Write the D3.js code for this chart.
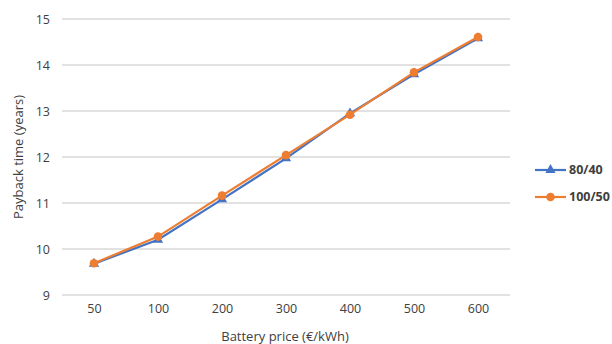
<!DOCTYPE html>
<html>
<head>
<meta charset="utf-8">
<script src="https://cdn.jsdelivr.net/npm/d3@7"></script>
<style>
  body { margin: 0; background: #fff; }
  text { font-family: "Open Sans", sans-serif; }
</style>
</head>
<body>
<div id="my_dataviz"></div>
<script>
// data
var prices = ["50", "100", "200", "300", "400", "500", "600"]
var series80 = [9.68, 10.2, 11.08, 11.97, 12.95, 13.8, 14.58]
var series100 = [9.69, 10.27, 11.16, 12.04, 12.92, 13.84, 14.61]
var yTicks = [9, 10, 11, 12, 13, 14, 15]

var width = 612,
    height = 344

var svg = d3.select("#my_dataviz")
  .append("svg")
    .attr("width", width)
    .attr("height", height)

// x and y scales
var x = d3.scalePoint()
  .domain(prices)
  .range([62, 510])
  .padding(0.5)

var y = d3.scaleLinear()
  .domain([9, 15])
  .range([295, 19])

// gridlines
svg.append("g")
  .selectAll("line")
  .data(yTicks)
  .enter()
  .append("line")
    .attr("x1", 62)
    .attr("x2", 510)
    .attr("y1", function(d) { return y(d) })
    .attr("y2", function(d) { return y(d) })
    .attr("stroke", "#d9d9d9")
    .attr("stroke-width", 1.3)

// y axis labels
var yAxis = svg.append("g")
  .attr("transform", "translate(52,0)")
  .call(d3.axisLeft(y).tickValues(yTicks).tickFormat(d3.format("d")).tickSize(0).tickPadding(2))
yAxis.select(".domain").remove()
yAxis.selectAll("text")
  .style("font-size", "12.5px")
  .attr("fill", "#404040")

// x axis labels
var xAxis = svg.append("g")
  .attr("transform", "translate(0,302)")
  .call(d3.axisBottom(x).tickSize(0).tickPadding(2))
xAxis.select(".domain").remove()
xAxis.selectAll("text")
  .style("font-size", "12.5px")
  .attr("fill", "#404040")

// axis titles
svg.append("text")
  .attr("x", 285)
  .attr("y", 341)
  .attr("text-anchor", "middle")
  .style("font-size", "13px")
  .attr("fill", "#404040")
  .text("Battery price (€/kWh)")

svg.append("text")
  .attr("transform", "translate(23,157) rotate(-90)")
  .attr("text-anchor", "middle")
  .style("font-size", "13px")
  .attr("fill", "#404040")
  .text("Payback time (years)")

var line = d3.line()
  .x(function(d, i) { return x(prices[i]) })
  .y(function(d) { return y(d) })

var blue = "#4472C4",
    orange = "#ED7D31"

// series 80/40 with triangles
svg.append("path")
  .datum(series80)
  .attr("fill", "none")
  .attr("stroke", blue)
  .attr("stroke-width", 2.2)
  .attr("d", line)

var tri = d3.symbol().type(d3.symbolTriangle).size(45)
svg.append("g")
  .selectAll("path")
  .data(series80)
  .enter()
  .append("path")
    .attr("d", tri)
    .attr("transform", function(d, i) { return "translate(" + x(prices[i]) + "," + y(d) + ")" })
    .attr("fill", blue)

// series 100/50 with circles
svg.append("path")
  .datum(series100)
  .attr("fill", "none")
  .attr("stroke", orange)
  .attr("stroke-width", 2.2)
  .attr("d", line)

svg.append("g")
  .selectAll("circle")
  .data(series100)
  .enter()
  .append("circle")
    .attr("cx", function(d, i) { return x(prices[i]) })
    .attr("cy", function(d) { return y(d) })
    .attr("r", 4.3)
    .attr("fill", orange)

// legend
var legend = [
  { name: "80/40", color: blue, shape: "tri" },
  { name: "100/50", color: orange, shape: "circle" }
]

var lg = svg.append("g")
  .selectAll("g")
  .data(legend)
  .enter()
  .append("g")
    .attr("transform", function(d, i) { return "translate(535," + (170 + i * 27) + ")" })

lg.append("line")
  .attr("x1", 0).attr("x2", 31)
  .attr("stroke", function(d) { return d.color })
  .attr("stroke-width", 2.2)

lg.filter(function(d) { return d.shape === "tri" })
  .append("path")
  .attr("d", tri)
  .attr("transform", "translate(15.5,0)")
  .attr("fill", function(d) { return d.color })

lg.filter(function(d) { return d.shape === "circle" })
  .append("circle")
  .attr("cx", 15.5)
  .attr("r", 4.3)
  .attr("fill", function(d) { return d.color })

lg.append("text")
  .attr("x", 34)
  .attr("dy", "0.35em")
  .style("font-size", "12.5px")
  .style("font-weight", "bold")
  .attr("fill", "#404040")
  .text(function(d) { return d.name })
</script>
</body>
</html>
